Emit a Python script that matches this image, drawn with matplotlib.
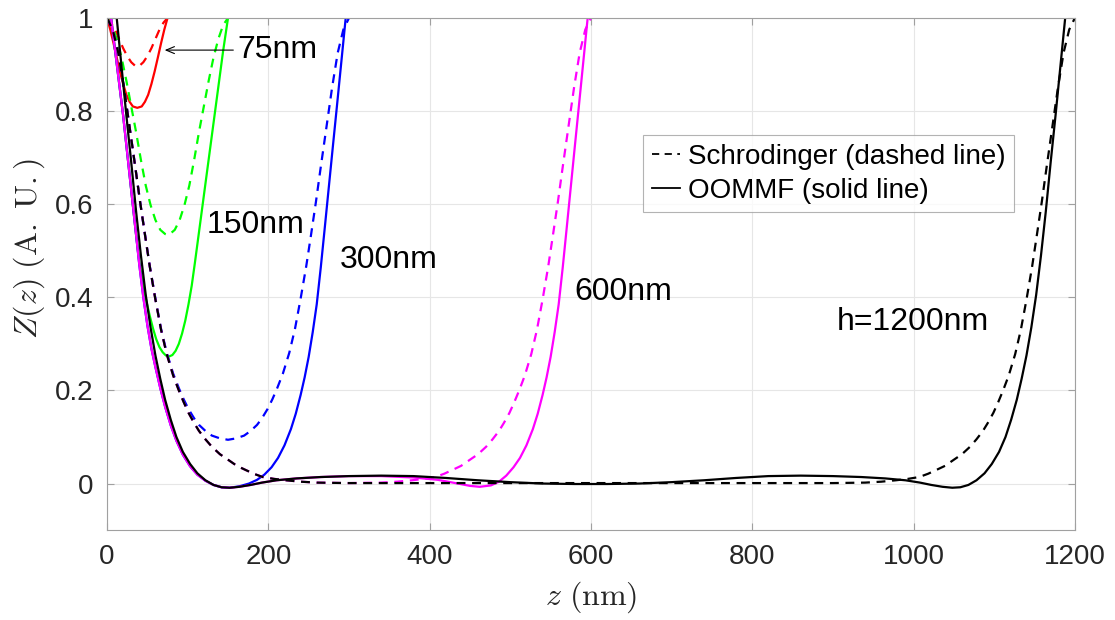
import matplotlib
matplotlib.use('Agg')
import matplotlib.pyplot as plt

plt.rcParams['font.family'] = ['Liberation Sans', 'DejaVu Sans']
plt.rcParams['mathtext.fontset'] = 'cm'

# h = 75 nm
z75_s = [0, 4, 8, 12, 16, 20, 24, 28, 32, 37.5, 43, 47, 51, 55, 59, 63, 67, 71, 75]
Z75_s = [1.0, 0.975, 0.946, 0.915, 0.885, 0.858, 0.835, 0.82, 0.81, 0.807,
         0.81, 0.82, 0.835, 0.858, 0.885, 0.915, 0.946, 0.975, 1.0]
z75_d = [0, 5, 10, 15, 20, 25, 30, 35, 37.5, 40, 45, 50, 55, 60, 65, 70, 75]
Z75_d = [1.0, 0.99, 0.975, 0.955, 0.935, 0.918, 0.905, 0.897, 0.895, 0.897,
         0.905, 0.918, 0.935, 0.955, 0.975, 0.99, 1.0]

# h = 150 nm
z150_s = [0, 5, 10, 15, 20, 25, 30, 35, 40, 45, 49, 53, 57, 61, 65, 69, 73, 77,
          81, 85, 89, 93, 97, 101, 105, 109, 114, 119, 124, 129, 134, 139, 144, 150]
Z150_s = [1.08, 1.0, 0.93, 0.86, 0.79, 0.71, 0.63, 0.55, 0.475, 0.425, 0.39,
          0.36, 0.333, 0.31, 0.293, 0.282, 0.275, 0.273, 0.276, 0.285, 0.3,
          0.322, 0.35, 0.385, 0.425, 0.475, 0.54, 0.605, 0.67, 0.735, 0.8,
          0.865, 0.93, 1.0]
z150_d = [0, 6, 12, 18, 24, 30, 36, 42, 48, 54, 60, 66, 72, 75, 78, 84, 90, 96,
          102, 108, 114, 120, 126, 132, 138, 144, 150]
Z150_d = [1.0, 0.985, 0.955, 0.915, 0.865, 0.81, 0.755, 0.695, 0.64, 0.598,
          0.566, 0.545, 0.536, 0.534, 0.536, 0.545, 0.566, 0.598, 0.64, 0.695,
          0.755, 0.81, 0.865, 0.915, 0.955, 0.985, 1.0]

# h = 300 nm
z300_s = [0, 5, 10, 15, 20, 25, 30, 35, 40, 45, 50, 55, 60, 66, 72, 79, 86, 94,
          103, 112, 122, 132, 142, 152, 164, 176, 186, 195, 204, 212, 220,
          228, 234, 240, 245, 250, 255, 260, 265, 270, 275, 280, 285, 290, 295, 300]
Z300_s = [1.08, 1.0, 0.93, 0.86, 0.79, 0.71, 0.63, 0.55, 0.47, 0.4, 0.34,
          0.29, 0.25, 0.205, 0.165, 0.125, 0.092, 0.062, 0.037, 0.019, 0.006,
          -0.003, -0.008, -0.009, -0.006, 0.0, 0.008, 0.019, 0.035,
          0.055, 0.082, 0.117, 0.15, 0.19, 0.228, 0.272, 0.325, 0.385, 0.464,
          0.55, 0.637, 0.724, 0.81, 0.897, 0.984, 1.07]
z300_d = [0, 7, 14, 21, 28, 35, 41, 47, 53, 60, 67, 74, 82, 89, 95, 101, 108,
          114, 122, 130, 140, 150, 160, 170, 178, 186, 192, 199, 205, 211, 218,
          226, 233, 240, 247, 253, 259, 265, 272, 279, 286, 293, 300]
Z300_d = [1.0, 0.975, 0.925, 0.85, 0.765, 0.68, 0.605, 0.535, 0.467, 0.397,
          0.332, 0.281, 0.236, 0.205, 0.181, 0.16, 0.14, 0.126, 0.113, 0.103,
          0.097, 0.094, 0.097, 0.103, 0.113, 0.126, 0.14, 0.16, 0.181, 0.205,
          0.236, 0.281, 0.332, 0.397, 0.467, 0.535, 0.605, 0.68, 0.765, 0.85,
          0.925, 0.975, 1.0]

# h = 600 nm
z600_s = [0, 5, 10, 15, 20, 25, 30, 35, 40, 45, 50, 55, 60, 66, 72, 79, 86, 94,
          103, 112, 122, 132, 142, 152, 164, 178, 192, 210, 235, 265, 300, 340,
          380, 410, 435, 450, 462, 476, 486, 495, 504, 512, 520, 528, 534, 540,
          545, 550, 555, 560, 565, 570, 575, 580, 585, 590, 595, 600]
Z600_s = [1.08, 1.0, 0.93, 0.86, 0.79, 0.71, 0.63, 0.55, 0.47, 0.4, 0.34,
          0.29, 0.25, 0.205, 0.165, 0.125, 0.092, 0.062, 0.037, 0.019, 0.006,
          -0.003, -0.008, -0.009, -0.007, -0.003, 0.002, 0.007, 0.011, 0.014,
          0.016, 0.016, 0.013, 0.008, 0.0, -0.005, -0.007, -0.004, 0.004, 0.017,
          0.035, 0.055, 0.082, 0.117, 0.15, 0.19, 0.228, 0.272, 0.325, 0.385,
          0.464, 0.55, 0.637, 0.724, 0.81, 0.897, 0.984, 1.07]
z600_d = [0, 7, 14, 21, 28, 35, 41, 47, 53, 60, 67, 74, 82, 89, 95, 101, 108,
          114, 122, 130, 140, 151, 161, 172, 182, 193, 207, 222, 240, 260, 300,
          340, 360, 378, 393, 407, 418, 428, 439, 449, 460, 470, 478, 486, 492,
          499, 505, 511, 518, 526, 533, 540, 547, 553, 559, 565, 572, 579, 586,
          593, 600]
Z600_d = [1.0, 0.975, 0.925, 0.85, 0.765, 0.68, 0.605, 0.535, 0.466, 0.395,
          0.33, 0.278, 0.232, 0.2, 0.175, 0.152, 0.13, 0.113, 0.095, 0.079,
          0.063, 0.05, 0.038, 0.029, 0.021, 0.014, 0.01, 0.007, 0.004, 0.002,
          0.001, 0.002, 0.004, 0.007, 0.01, 0.014, 0.021, 0.029, 0.038, 0.05,
          0.063, 0.079, 0.095, 0.113, 0.13, 0.152, 0.175, 0.2, 0.232, 0.278,
          0.33, 0.395, 0.466, 0.535, 0.605, 0.68, 0.765, 0.85, 0.925, 0.975, 1.0]

# h = 1200 nm
z1200_s = [0, 6, 12, 18, 24, 30, 36, 42, 48, 54, 60, 66, 72, 79, 86, 94, 103,
           112, 122, 132, 142, 152, 164, 178, 192, 210, 235, 265, 300, 340, 380,
           420, 460, 500, 540, 580, 620, 660, 700, 740, 780, 820, 860, 900, 935,
           965, 990, 1008, 1022, 1036, 1048, 1058, 1068, 1078, 1088, 1097, 1106,
           1114, 1121, 1128, 1134, 1140, 1146, 1152, 1158, 1164, 1170, 1176,
           1182, 1188, 1194, 1200]
Z1200_s = [1.21, 1.1, 1.0, 0.895, 0.79, 0.69, 0.585, 0.49, 0.405, 0.335, 0.275,
           0.225, 0.18, 0.137, 0.1, 0.068, 0.042, 0.022, 0.007, -0.003, -0.008,
           -0.009, -0.007, -0.003, 0.002, 0.007, 0.011, 0.014, 0.016, 0.017,
           0.016, 0.012, 0.007, 0.003, 0.0, -0.001, -0.001, 0.0, 0.003, 0.007,
           0.012, 0.016, 0.017, 0.016, 0.014, 0.011, 0.007, 0.002, -0.003,
           -0.007, -0.009, -0.008, -0.003, 0.007, 0.022, 0.042, 0.068, 0.1,
           0.137, 0.18, 0.225, 0.275, 0.335, 0.405, 0.49, 0.585, 0.69, 0.79,
           0.895, 1.0, 1.1, 1.21]
z1200_d = [0, 7, 14, 21, 28, 35, 41, 47, 53, 60, 67, 74, 82, 89, 95, 101, 108,
           114, 122, 130, 140, 151, 161, 172, 182, 193, 207, 222, 240, 260, 300,
           600, 900, 940, 960, 978, 993, 1007, 1018, 1028, 1039, 1049, 1060,
           1070, 1078, 1086, 1092, 1099, 1105, 1111, 1118, 1126, 1133, 1140,
           1147, 1153, 1159, 1165, 1172, 1179, 1186, 1193, 1200]
Z1200_d = [1.0, 0.975, 0.925, 0.85, 0.765, 0.68, 0.605, 0.535, 0.466, 0.395,
           0.33, 0.278, 0.232, 0.2, 0.175, 0.152, 0.13, 0.113, 0.095, 0.079,
           0.063, 0.05, 0.038, 0.029, 0.021, 0.014, 0.01, 0.007, 0.004, 0.002,
           0.001, 0.001, 0.001, 0.002, 0.004, 0.007, 0.01, 0.014, 0.021, 0.029,
           0.038, 0.05, 0.063, 0.079, 0.095, 0.113, 0.13, 0.152, 0.175, 0.2,
           0.232, 0.278, 0.33, 0.395, 0.466, 0.535, 0.605, 0.68, 0.765, 0.85,
           0.925, 0.975, 1.0]

series = [
    (z75_d, Z75_d, z75_s, Z75_s, (1, 0, 0)),
    (z150_d, Z150_d, z150_s, Z150_s, (0, 1, 0)),
    (z300_d, Z300_d, z300_s, Z300_s, (0, 0, 1)),
    (z600_d, Z600_d, z600_s, Z600_s, (1, 0, 1)),
    (z1200_d, Z1200_d, z1200_s, Z1200_s, (0, 0, 0)),
]

fig = plt.figure(figsize=(11.15, 6.2), dpi=100)
ax = fig.add_axes([0.096, 0.145, 0.868, 0.826])

for zd, Zd, zs, Zs, c in series:
    ax.plot(zd, Zd, color=c, lw=1.6, dashes=(4, 3))
    ax.plot(zs, Zs, color=c, lw=1.6)

# legend handles only
ax.plot([], [], color='k', lw=1.3, dashes=(4, 3), label='Schrodinger (dashed line)')
ax.plot([], [], color='k', lw=1.3, label='OOMMF (solid line)')

ax.set_xlim(0, 1200)
ax.set_ylim(-0.1, 1)
ax.set_xticks(range(0, 1201, 200))
ax.set_yticks([0, 0.2, 0.4, 0.6, 0.8, 1])
ax.set_yticklabels(['0', '0.2', '0.4', '0.6', '0.8', '1'])
ax.grid(True, color='#e6e6e6', lw=0.8)
ax.set_axisbelow(True)
ax.tick_params(direction='in', length=5, width=0.8, color='#a0a0a0',
               labelsize=20, labelcolor='#262626', top=True, right=True, pad=10)
for s in ax.spines.values():
    s.set_color('#a0a0a0')
    s.set_linewidth(0.8)

ax.set_xlabel(r'$z\ (\mathrm{nm})$', fontsize=23, color='#262626', labelpad=7)
ax.set_ylabel(r'$Z(z)\ (\mathrm{A.\ U.})$', fontsize=23, color='#262626')
ax.yaxis.set_label_coords(-0.062, 0.55)

lg = ax.legend(loc='upper right', bbox_to_anchor=(0.937, 0.771), fontsize=20,
               frameon=True, fancybox=False, handlelength=1.0, handletextpad=0.3,
               borderpad=0.3, labelspacing=0.3, borderaxespad=0)
lg.get_frame().set_edgecolor('#a0a0a0')
lg.get_frame().set_linewidth(0.8)

tk = dict(fontsize=23, color='k', va='center', ha='left')
ax.text(162, 0.931, '75nm', **tk)
ax.text(124, 0.556, '150nm', **tk)
ax.text(289, 0.481, '300nm', **tk)
ax.text(579, 0.412, '600nm', **tk)
ax.text(905, 0.348, 'h=1200nm', **tk)
ax.annotate('', xy=(68, 0.931), xytext=(160, 0.931),
            arrowprops=dict(arrowstyle='->,head_length=0.6,head_width=0.25', lw=0.8, color='k'))

fig.savefig('out.png', dpi=100)
